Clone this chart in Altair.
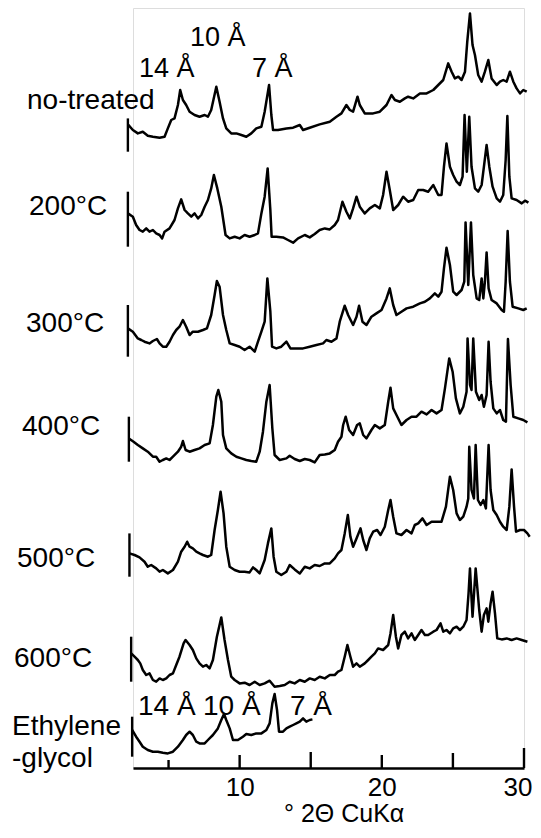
import altair as alt
import pandas as pd

FONT = "Liberation Sans"

# (2-theta in degrees, relative intensity)
no_treated = [(2.14,27.3),(2.49,21.7),(2.84,18.3),(3.19,20),(3.54,16),(3.90,15),(4.37,14),(4.72,15),(4.95,23.3),(5.19,31.7),(5.42,33.3),(5.66,46.7),(5.82,61.7),(6.01,51.7),(6.24,46.7),(6.48,40),(6.83,36.7),(7.18,35),(7.54,36.7),(7.77,35),(8.00,41.7),(8.36,65),(8.59,50),(8.83,33.3),(9.06,23.3),(9.41,18.3),(9.77,18.3),(10.12,16.7),(10.47,15),(10.82,18.3),(11.17,23.3),(11.53,25),(11.76,40),(12.07,66.7),(12.23,36.7),(12.35,21.7),(12.70,21.7),(13.29,23.3),(13.76,24),(14.23,26.7),(14.46,21.7),(14.93,24),(15.63,27.3),(16.34,30),(16.81,35),(17.16,38.3),(17.51,46.7),(17.75,41.7),(17.98,40),(18.29,55),(18.45,46.7),(18.80,38.3),(19.39,38.3),(19.86,40),(20.33,46.7),(20.68,56.7),(20.92,51.7),(21.27,50),(21.62,53.3),(21.85,55),(22.21,53.3),(22.68,58.3),(23.15,58.3),(23.62,61.7),(23.97,66.7),(24.32,71.7),(24.67,88.3),(24.91,80),(25.14,73.3),(25.38,75),(25.61,71.7),(25.85,80),(26.01,110),(26.20,138.3),(26.38,106.7),(26.55,96.7),(26.78,76.7),(27.02,70),(27.25,80),(27.49,91.7),(27.72,73.3),(28.08,66.7),(28.31,70),(28.54,71.7),(28.78,70),(29.01,80),(29.25,70),(29.48,63.3),(29.72,58.3),(29.95,61.7),(30.19,60)]

t200 = [(2.14,33.3),(2.49,30),(2.72,21.7),(2.96,16.7),(3.19,15),(3.43,18.3),(3.66,15),(3.90,16.7),(4.13,13.3),(4.37,11.7),(4.55,8.3),(4.72,15),(5.07,18.3),(5.42,26.7),(5.66,38.3),(5.89,47.3),(6.13,36.7),(6.36,33.3),(6.60,30),(6.83,33.3),(7.07,28.3),(7.30,31.7),(7.54,40),(7.77,46.7),(8.00,58.3),(8.19,71.7),(8.43,58.3),(8.71,40),(9.01,11.7),(9.30,8.3),(9.65,10),(10.00,8.3),(10.35,11.7),(10.70,10),(11.06,11.7),(11.29,13.3),(11.53,33.3),(11.76,50),(11.97,78.3),(12.16,36.7),(12.25,10),(12.58,10),(13.05,9.3),(13.40,6.7),(13.76,4),(14.11,8.3),(14.58,11.7),(14.93,9.3),(15.28,12.7),(15.63,16.7),(15.99,18.3),(16.34,17.3),(16.69,21.7),(16.92,26.7),(17.23,45),(17.51,35),(17.75,28.3),(17.98,38.3),(18.22,50),(18.45,40),(18.80,33.3),(19.15,38.3),(19.51,41.7),(19.86,38.3),(20.09,51.7),(20.33,75),(20.56,56.7),(20.80,36.7),(21.15,41.7),(21.50,50),(21.85,45),(22.21,46.7),(22.56,56.7),(22.91,56.7),(23.26,55),(23.62,61.7),(23.97,51.7),(24.20,51.7),(24.37,80),(24.55,103.3),(24.79,80),(25.02,71.7),(25.26,65),(25.49,61.7),(25.68,70),(25.82,131.7),(25.98,75),(26.15,130),(26.31,80),(26.55,58.3),(26.78,55),(27.02,61.7),(27.21,83.3),(27.37,101.7),(27.56,80),(27.79,60),(28.08,48.3),(28.31,45),(28.54,51.7),(28.71,86.7),(28.83,130.7),(28.97,70),(29.13,48.3),(29.48,46.7),(29.84,43.3),(30.07,46),(30.31,44)]

t300 = [(2.14,28.3),(2.49,25),(2.84,18.3),(3.08,16.7),(3.31,15),(3.66,13.3),(3.90,15.7),(4.18,17.7),(4.37,13.3),(4.60,10),(4.84,10),(5.07,15),(5.31,21.7),(5.54,26.7),(5.77,30),(6.01,36.7),(6.24,30),(6.48,21.7),(6.71,25),(7.07,25),(7.42,26.7),(7.70,28.3),(8.00,41.7),(8.24,61.7),(8.40,75.7),(8.59,70),(8.83,41.7),(9.06,26.7),(9.30,13.3),(9.65,11.7),(10.00,10),(10.35,6.7),(10.70,10),(11.06,5),(11.29,15),(11.53,25),(11.76,35),(11.95,78.3),(12.16,45),(12.28,10),(12.58,8.3),(12.93,10),(13.29,15),(13.57,8.3),(13.99,8.3),(14.46,8.3),(14.93,10),(15.40,11.7),(15.87,13.3),(16.10,16.7),(16.46,15),(16.81,18.3),(17.04,35),(17.39,51),(17.63,41.7),(17.98,31.7),(18.22,40),(18.40,51),(18.64,35),(18.92,31.7),(19.27,40),(19.62,43.3),(19.98,46.7),(20.33,58.3),(20.56,68.3),(20.80,51.7),(21.03,41.7),(21.38,45),(21.74,48.3),(22.21,50),(22.68,53.3),(23.03,55),(23.38,58.3),(23.73,63.3),(23.97,60),(24.20,65),(24.37,88.3),(24.55,109),(24.79,91.7),(25.02,65),(25.26,61.7),(25.61,66.7),(25.80,75),(25.89,134.3),(26.08,71.7),(26.27,134.3),(26.43,81.7),(26.67,58.3),(26.85,56.7),(27.02,78.3),(27.14,58.3),(27.25,75),(27.37,104.3),(27.51,68.3),(27.72,56.7),(28.08,53.3),(28.43,46.7),(28.59,45),(28.71,75),(28.85,125.7),(29.01,75),(29.20,50),(29.60,48.3),(29.95,46.7),(30.19,48.3)]

t400 = [(2.21,23.3),(2.54,20),(2.84,16.7),(3.19,13.3),(3.54,10),(3.90,5),(4.13,5),(4.37,0),(4.60,1.7),(4.84,3.3),(5.07,1.7),(5.31,5),(5.66,10),(5.89,15),(6.01,20.7),(6.20,11.7),(6.48,10),(6.83,11.7),(7.18,13.3),(7.54,16.7),(7.89,18.3),(8.12,36.7),(8.36,65),(8.50,71.7),(8.71,60),(8.83,26.7),(9.06,13.3),(9.41,8.3),(9.77,5),(10.12,3.3),(10.47,1.7),(10.82,0.7),(11.17,0),(11.41,10),(11.64,30),(11.88,60),(12.11,76.7),(12.30,33.3),(12.46,6.7),(12.82,1.7),(13.29,3.3),(13.52,6),(13.87,2.7),(14.23,0.7),(14.58,2.7),(14.93,1.7),(15.28,-0.7),(15.63,6.7),(15.99,7.3),(16.34,8.3),(16.69,11.7),(16.92,20),(17.16,25),(17.28,36.7),(17.46,45),(17.70,31.7),(17.98,26.7),(18.26,36.7),(18.45,38.3),(18.69,26.7),(18.92,23.3),(19.27,31.7),(19.51,36.7),(19.86,33.3),(20.21,36.7),(20.45,60),(20.61,74),(20.80,53.3),(21.03,46.7),(21.38,36.7),(21.74,41.7),(22.09,45),(22.44,45),(22.79,50),(23.15,47.3),(23.50,51.7),(23.85,48.3),(24.20,51.7),(24.44,73.3),(24.74,103.3),(24.98,90),(25.21,63.3),(25.49,48.3),(25.73,55),(25.96,70),(26.03,123.3),(26.20,76.7),(26.31,71.7),(26.43,123.3),(26.62,70),(26.85,61.7),(27.02,66.7),(27.18,55),(27.37,66.7),(27.51,120),(27.65,80),(27.84,53.3),(28.08,48.3),(28.31,51.7),(28.54,41.7),(28.73,40),(28.87,122.7),(29.06,76.7),(29.25,45),(29.60,43.3),(29.95,41.7),(30.24,39.3)]

t500 = [(2.25,23.3),(2.61,21.7),(2.96,19.3),(3.31,15),(3.54,10),(3.78,11.7),(4.13,8.3),(4.37,5),(4.60,6.7),(4.95,3.3),(5.31,6.7),(5.66,15),(5.89,25),(6.13,30),(6.31,35),(6.48,30),(6.71,28.3),(6.95,25),(7.18,23.3),(7.42,21.7),(7.77,20),(8.00,21.7),(8.24,46.7),(8.47,66.7),(8.66,85),(8.87,63.3),(9.06,30),(9.30,10),(9.65,6.7),(10.00,5),(10.35,5),(10.70,4.3),(10.94,9.3),(11.17,6.7),(11.41,3.3),(11.76,16.7),(11.99,33.3),(12.23,48.3),(12.39,20),(12.58,5),(12.93,1.7),(13.29,5),(13.52,11.7),(13.87,7.3),(14.23,3.3),(14.58,10),(14.93,8.3),(15.28,11.7),(15.63,10.7),(15.99,13.3),(16.34,13.3),(16.69,18.3),(16.92,23.3),(17.16,26.7),(17.39,43.3),(17.61,61.7),(17.79,40),(17.98,30),(18.22,38.3),(18.50,48.3),(18.69,36.7),(18.92,26.7),(19.15,38.3),(19.39,45),(19.67,46.7),(19.91,41.7),(20.21,50),(20.45,66.7),(20.61,76.7),(20.80,60),(21.03,43.3),(21.38,41.7),(21.74,46.7),(22.09,43.3),(22.32,51.7),(22.56,53.3),(22.86,58.3),(23.15,51.7),(23.50,55),(23.85,55),(24.20,55),(24.51,70),(24.79,100),(25.02,86.7),(25.26,63.3),(25.49,56.7),(25.73,60),(25.96,70),(26.08,78.3),(26.15,130),(26.31,86.7),(26.48,78.3),(26.60,131.7),(26.76,76.7),(26.95,71.7),(27.14,76.7),(27.32,68.3),(27.51,131.7),(27.65,86.7),(27.84,66.7),(28.08,61.7),(28.31,55),(28.54,50),(28.78,46.7),(28.97,70),(29.13,107.3),(29.30,70),(29.44,45),(29.72,46.7),(30.00,46.7),(30.24,43.3),(30.40,40)]

t600 = [(2.37,28.3),(2.61,25),(2.84,21.7),(3.01,18.3),(3.19,11.7),(3.43,6.7),(3.66,8.3),(3.90,1.7),(4.13,0),(4.37,3.3),(4.60,1.7),(4.84,3.3),(5.07,6.7),(5.31,8.3),(5.54,16.7),(5.77,25),(6.06,38.3),(6.20,41.7),(6.48,36.7),(6.71,31.7),(6.95,23.3),(7.18,18.3),(7.42,15),(7.65,16.7),(7.89,13.3),(8.12,21.7),(8.40,45),(8.71,64.3),(8.94,41.7),(9.18,21.7),(9.41,5),(9.65,1.7),(10.00,-1.7),(10.35,-1),(10.70,-3.3),(11.06,0),(11.41,-3.3),(11.76,-1.7),(12.11,1),(12.46,-5),(12.82,-4.3),(13.17,-3.3),(13.52,0),(13.87,-1.7),(14.23,1.7),(14.58,0),(14.93,3.3),(15.28,1.7),(15.63,5),(15.99,3.3),(16.34,6.7),(16.69,6.7),(16.92,10),(17.16,11.7),(17.39,25),(17.58,36.7),(17.79,25),(17.98,15),(18.22,18.3),(18.45,15),(18.80,18.3),(19.04,21.7),(19.27,25),(19.51,28.3),(19.74,33.3),(20.09,31.7),(20.45,36.7),(20.61,48.3),(20.80,66.7),(20.99,45),(21.15,33.3),(21.38,46.7),(21.62,50),(21.85,43.3),(22.09,48.3),(22.32,41.7),(22.56,46.7),(22.79,51.7),(23.03,46.7),(23.26,46.7),(23.62,50),(23.85,51.7),(24.13,58.3),(24.32,50),(24.55,51.7),(24.79,48.3),(25.02,53.3),(25.26,55),(25.49,51.7),(25.73,55),(25.96,61.7),(26.10,88.3),(26.20,113.3),(26.38,65),(26.60,113.3),(26.85,71.7),(27.02,50),(27.18,66.7),(27.37,73.3),(27.49,60),(27.65,78.3),(27.79,90),(27.96,68.3),(28.12,43.3),(28.43,42.3),(28.78,43.3),(29.13,41.7),(29.48,43.3),(29.84,41.7),(30.24,40)]

ethylene_glycol = [(2.44,26.7),(2.72,20),(2.96,15),(3.19,10),(3.54,6.7),(3.90,5),(4.25,5),(4.60,4),(4.95,3.3),(5.31,5),(5.66,10),(6.01,16.7),(6.24,21.7),(6.48,25),(6.71,21.7),(6.95,15),(7.18,13.3),(7.54,13.3),(7.77,16.7),(8.12,21.7),(8.47,28.3),(8.71,36.7),(8.90,42.7),(9.06,36.7),(9.30,28.3),(9.53,16.7),(9.88,16.7),(10.23,20),(10.47,22.7),(10.82,21.7),(11.17,23.3),(11.53,23.3),(11.88,26.7),(12.11,33.3),(12.30,53.3),(12.46,62.7),(12.63,46.7),(12.77,25),(13.05,25),(13.29,28.3),(13.52,30),(13.76,31.7),(13.99,33.3),(14.23,35),(14.46,38.3),(14.69,35),(14.93,36.7),(15.12,37.3)]

series_names = ["no-treated", "200", "300", "400", "500", "600", "EG"]
series_data = [no_treated, t200, t300, t400, t500, t600, ethylene_glycol]

# layout: vertical offset of each pattern and height of its start bar
offsets = [616.3, 521.3, 411.3, 306.3, 191.3, 86.3, 11.3]
bar_heights = [33.3, 55, 51.7, 45, 43.3, 45, 40]

tick_values = [5, 10, 15, 20, 25, 30]
tick_lengths = [8, 13, 16, 13, 15, 20]
label_ticks = [10, 20, 30]

rows = []
bars = []
for name, pts, off, bh in zip(series_names, series_data, offsets, bar_heights):
    for i, (t, v) in enumerate(pts):
        rows.append({"series": name, "i": i, "theta": t, "y": off + v})
    bars.append({"series": name, "theta": pts[0][0], "y0": off, "y1": off + bh})
df = pd.DataFrame(rows)
bar_df = pd.DataFrame(bars)
tick_df = pd.DataFrame({"theta": tick_values, "y0": [0] * len(tick_values), "y1": tick_lengths})

XS = alt.Scale(domain=[2.5, 30], nice=False, zero=False)
YS = alt.Scale(domain=[0, 760], nice=False, zero=False)

lines = alt.Chart(df).mark_line(color="black", strokeWidth=2.5, strokeJoin="round", clip=False).encode(
    x=alt.X("theta:Q", scale=XS, axis=alt.Axis(values=label_ticks, labelFontSize=26, labelFont=FONT,
                                               labelColor="black", domainColor="black", domainWidth=2.5,
                                               ticks=False, tickSize=0, labelPadding=6, grid=False,
                                               title=None, labelFlush=True, labelFlushOffset=8)),
    y=alt.Y("y:Q", scale=YS, axis=None),
    detail="series:N",
    order="i:Q",
)

start_bars = alt.Chart(bar_df).mark_rule(color="black", strokeWidth=2.4).encode(
    x=alt.X("theta:Q", scale=XS), y=alt.Y("y0:Q", scale=YS), y2="y1:Q"
)

ticks = alt.Chart(tick_df).mark_rule(color="black", strokeWidth=2.4).encode(
    x=alt.X("theta:Q", scale=XS), y=alt.Y("y0:Q", scale=YS), y2="y1:Q"
)

# text: (label, left x px, baseline y px on page, font size)
texts = [
    ("no-treated", 27, 109, 28),
    ("200°C", 29, 215, 28),
    ("300°C", 26, 332, 28),
    ("400°C", 22, 435, 28),
    ("500°C", 17, 567, 28),
    ("600°C", 14, 667, 28),
    ("Ethylene", 12, 735, 28),
    ("-glycol", 12, 767, 28),
    ("14 Å", 139, 77, 27),
    ("10 Å", 190, 46, 27),
    ("7 Å", 252, 77, 27),
    ("14 Å", 138, 715, 28),
    ("10 Å", 203, 715, 28),
    ("7 Å", 290, 715, 28),
    ("° 2Θ  CuKα", 284, 822, 25),
]
PLOT_X0, PLOT_Y0 = 133, 8
text_layers = []
for label, px, py, fs in texts:
    text_layers.append(
        alt.Chart(pd.DataFrame({"t": [label]})).mark_text(
            align="left", baseline="alphabetic", font=FONT, fontSize=fs, color="black"
        ).encode(x=alt.value(px - PLOT_X0), y=alt.value(py - PLOT_Y0), text="t:N")
    )

chart = alt.layer(lines, start_bars, ticks, *text_layers).properties(
    width=391, height=760,
    autosize=alt.AutoSizeParams(type="none"),
    padding={"left": 125, "top": 0, "right": 9, "bottom": 62},
).configure_view(stroke=None).configure(background="white")

chart.save("out.html", embed_options={"renderer": "svg", "actions": False})
